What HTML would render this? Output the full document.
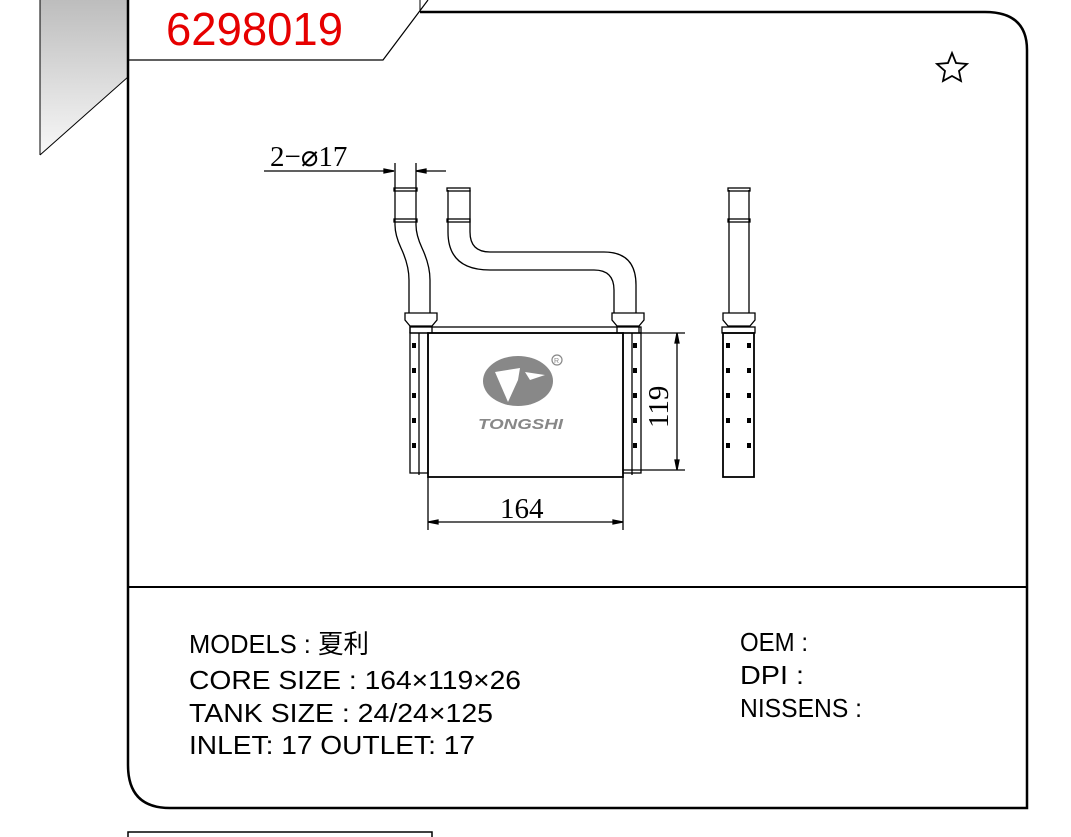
<!DOCTYPE html>
<html><head><meta charset="utf-8"><style>
body{margin:0;background:#fff;}
svg{display:block;}
.t{font-family:"Liberation Sans","Noto Sans CJK SC",sans-serif;font-size:26px;fill:#000;}
.d{font-family:"Liberation Serif",serif;font-size:29px;fill:#000;}
</style></head><body>
<svg width="1071" height="837" viewBox="0 0 1071 837" xmlns="http://www.w3.org/2000/svg">
<defs><linearGradient id="g" x1="0" y1="0" x2="0" y2="1"><stop offset="0" stop-color="#bdbdbd"/><stop offset="1" stop-color="#f8f8f8"/></linearGradient></defs>
<polygon points="40,0 128,0 128,77 40,155" fill="url(#g)"/>
<line x1="40" y1="0" x2="40" y2="155" stroke="#000" stroke-width="1"/>
<line x1="40" y1="155" x2="128" y2="77" stroke="#000" stroke-width="1"/>
<path d="M128,0 V765 Q128,808 170,808 H1027 V50 Q1027,12 985,12 H420" fill="none" stroke="#000" stroke-width="2.5"/>
<path d="M128,60 H383 L428,0" fill="none" stroke="#000" stroke-width="1.2"/>
<line x1="420" y1="0" x2="420" y2="12" stroke="#000" stroke-width="1"/>
<text x="166" y="45" font-family="Liberation Sans,sans-serif" font-size="46" fill="#e60000" textLength="177" lengthAdjust="spacingAndGlyphs">6298019</text>
<line x1="128" y1="587" x2="1027" y2="587" stroke="#000" stroke-width="2"/>
<path d="M128,837 V832 H432 V837" fill="none" stroke="#000" stroke-width="1.5"/>
<path d="M952,53 L956,63 L967,64 L959,71 L961,81 L952,76 L943,81 L945,71 L937,64 L948,63 Z" fill="none" stroke="#000" stroke-width="1.8"/>
<g fill="none" stroke="#000" stroke-width="1.3">
<line x1="264" y1="171" x2="394" y2="171"/>
<line x1="416" y1="171" x2="446" y2="171"/>
<polygon points="384,169 394,171 384,173" fill="#000"/>
<polygon points="426,169 416,171 426,173" fill="#000"/>
<line x1="395" y1="163" x2="395" y2="190"/><line x1="416" y1="163" x2="416" y2="190"/>
<path d="M395,190 V225 Q395,235 401,248 Q409,265 409,280 V313"/><path d="M416,190 V225 Q416,235 422,248 Q430,265 430,280 V313"/>
<rect x="394" y="188" width="23" height="3"/><rect x="394" y="219" width="23" height="3"/>
<path d="M448,190 V232 Q448,270 490,270 H594 Q614,270 614,290 V313"/>
<path d="M470,190 V232 Q470,252 490,252 H604 Q636,252 636,285 V313"/>
<rect x="447" y="188" width="23" height="3"/><rect x="447" y="219" width="23" height="3"/>
<path d="M405,313 H437 V320 L432,326 H410 L405,320 Z"/><path d="M410,326 V333 M432,326 V333"/>
<path d="M612,313 H644 V320 L639,326 H617 L612,320 Z"/><path d="M617,326 V333 M639,326 V333"/>
<rect x="410" y="327" width="231" height="6"/>
<rect x="410" y="333" width="18" height="140"/>
<rect x="623" y="333" width="18" height="140"/>
<rect x="428" y="333" width="195" height="144" stroke-width="1.8"/>
<line x1="419" y1="333" x2="419" y2="475"/><line x1="632" y1="333" x2="632" y2="475"/>
<line x1="623" y1="333" x2="685" y2="333"/><line x1="623" y1="470" x2="685" y2="470"/>
<line x1="677" y1="333" x2="677" y2="470"/>
<polygon points="675,343 677,333 679,343" fill="#000"/><polygon points="675,460 677,470 679,460" fill="#000"/>
<line x1="428" y1="477" x2="428" y2="530"/><line x1="623" y1="477" x2="623" y2="530"/>
<line x1="428" y1="522" x2="623" y2="522"/>
<polygon points="438,520 428,522 438,524" fill="#000"/><polygon points="613,520 623,522 613,524" fill="#000"/>
<path d="M729,190 V313 M749,190 V313"/>
<rect x="728" y="188" width="22" height="3"/><rect x="728" y="219" width="22" height="3"/>
<path d="M723,313 H755 V320 L750,326 H728 L723,320 Z"/>
<rect x="722" y="327" width="33" height="6"/>
<rect x="723" y="333" width="31" height="144" stroke-width="1.8"/>
</g>
<g fill="#000">
<rect x="412" y="343" width="4" height="5"/><rect x="412" y="368" width="4" height="5"/><rect x="412" y="393" width="4" height="5"/><rect x="412" y="418" width="4" height="5"/><rect x="412" y="443" width="4" height="5"/>
<rect x="633" y="343" width="4" height="5"/><rect x="633" y="368" width="4" height="5"/><rect x="633" y="393" width="4" height="5"/><rect x="633" y="418" width="4" height="5"/><rect x="633" y="443" width="4" height="5"/>
<rect x="726" y="343" width="4" height="5"/><rect x="726" y="368" width="4" height="5"/><rect x="726" y="393" width="4" height="5"/><rect x="726" y="418" width="4" height="5"/><rect x="726" y="443" width="4" height="5"/>
<rect x="747" y="343" width="4" height="5"/><rect x="747" y="368" width="4" height="5"/><rect x="747" y="393" width="4" height="5"/><rect x="747" y="418" width="4" height="5"/><rect x="747" y="443" width="4" height="5"/>
</g>
<ellipse cx="518" cy="381" rx="35" ry="25" fill="#888"/>
<path d="M495,372 L520,368 L518,380 L508,402 Z" fill="#fff"/>
<path d="M525,372 L545,375 L530,380 Z" fill="#fff"/>
<circle cx="557" cy="360" r="5" fill="none" stroke="#888" stroke-width="1.2"/>
<text x="554" y="363" font-family="Liberation Sans,sans-serif" font-size="7" fill="#888">R</text>
<text x="478" y="429" font-family="Liberation Sans,sans-serif" font-size="15" font-weight="bold" font-style="italic" fill="#888" textLength="85" lengthAdjust="spacingAndGlyphs">TONGSHI</text>
<text class="d" x="270" y="166">2−⌀17</text>
<text class="d" x="500" y="518">164</text>
<text class="d" transform="translate(668,428) rotate(-90)">119</text>
<text class="t" x="189" y="653" textLength="180" lengthAdjust="spacingAndGlyphs">MODELS : 夏利</text>
<text class="t" x="189" y="689" textLength="332" lengthAdjust="spacingAndGlyphs">CORE SIZE : 164×119×26</text>
<text class="t" x="189" y="722" textLength="304" lengthAdjust="spacingAndGlyphs">TANK SIZE : 24/24×125</text>
<text class="t" x="189" y="754" textLength="286" lengthAdjust="spacingAndGlyphs">INLET: 17  OUTLET: 17</text>
<text class="t" x="740" y="651" textLength="68" lengthAdjust="spacingAndGlyphs">OEM :</text>
<text class="t" x="740" y="684" textLength="64" lengthAdjust="spacingAndGlyphs">DPI :</text>
<text class="t" x="740" y="717" textLength="122" lengthAdjust="spacingAndGlyphs">NISSENS :</text>
</svg>
</body></html>
